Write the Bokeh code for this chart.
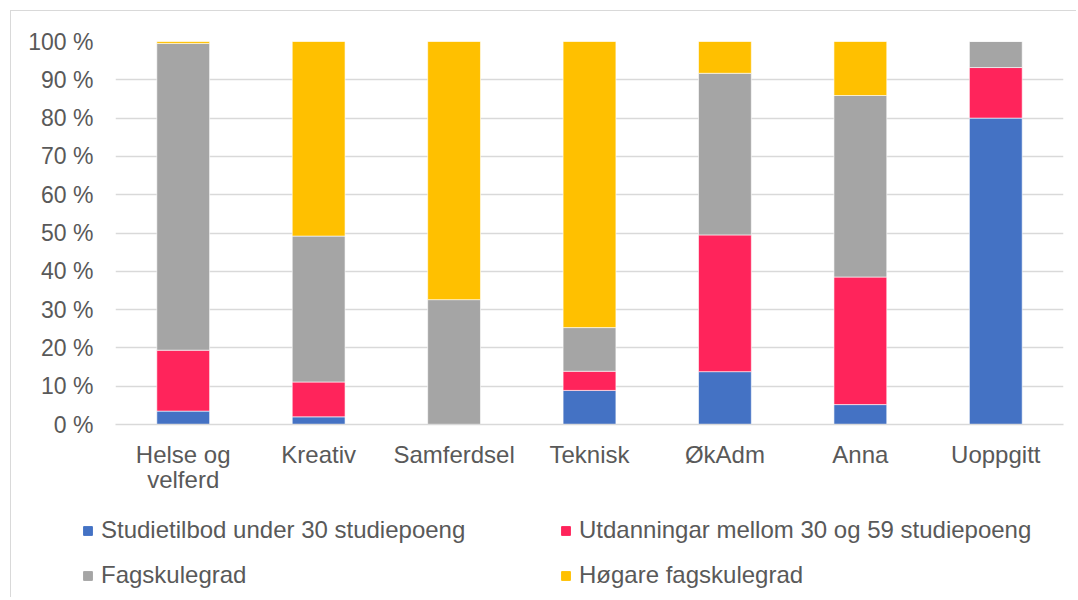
from bokeh.plotting import figure
from bokeh.models import ColumnDataSource, Legend, LegendItem, FixedTicker
from bokeh.embed import file_html
from bokeh.resources import INLINE

categories = ["Helse og\nvelferd", "Kreativ", "Samferdsel", "Teknisk", "ØkAdm", "Anna", "Uoppgitt"]
series = ["Studietilbod under 30 studiepoeng", "Utdanningar mellom 30 og 59 studiepoeng",
          "Fagskulegrad", "Høgare fagskulegrad"]
under30 = [3.5, 2.0, 0.0, 8.9, 13.8, 5.2, 80.0]
mellom30_59 = [15.9, 9.1, 0.0, 5.0, 35.7, 33.3, 13.2]
fagskulegrad = [80.1, 38.1, 32.6, 11.4, 42.2, 47.4, 6.8]
hogare = [0.5, 50.8, 67.4, 74.7, 8.3, 14.1, 0.0]
colors = ["#4472C4", "#FF245B", "#A5A5A5", "#FFC000"]
yticks = [0, 10, 20, 30, 40, 50, 60, 70, 80, 90, 100]

src = ColumnDataSource(dict(cat=categories, s0=under30, s1=mellom30_59, s2=fagskulegrad, s3=hogare))

FONT = "Liberation Sans"
p = figure(x_range=categories, y_range=(0, 100), width=1066, height=489,
           output_backend="svg", toolbar_location=None,
           min_border_left=104, min_border_right=14, min_border_top=30, min_border_bottom=76)
p.styles = {"margin-left": "10px", "margin-top": "10px",
            "border-left": "1px solid #d9d9d9", "border-top": "1px solid #d9d9d9"}

rs = p.vbar_stack(["s0", "s1", "s2", "s3"], x="cat", width=0.39, source=src,
                  color=colors, line_color="white", line_width=0.6)

p.outline_line_color = None
p.xgrid.grid_line_color = None
p.ygrid.grid_line_color = "#d9d9d9"
p.ygrid.grid_line_width = 1.5
p.ygrid.ticker = FixedTicker(ticks=yticks)

p.yaxis.ticker = FixedTicker(ticks=yticks)
p.yaxis.major_label_overrides = {t: f"{t} %" for t in yticks}
p.yaxis.axis_line_color = None
p.yaxis.major_tick_line_color = None
p.yaxis.minor_tick_line_color = None
p.yaxis.major_label_standoff = 16
p.yaxis.major_label_text_font = FONT
p.yaxis.major_label_text_font_size = "23px"
p.yaxis.major_label_text_color = "#595959"

p.xaxis.axis_line_color = "#d9d9d9"
p.xaxis.axis_line_width = 1.5
p.xaxis.major_tick_line_color = None
p.xaxis.major_label_standoff = 10
p.xaxis.major_label_text_font = FONT
p.xaxis.major_label_text_font_size = "24px"
p.xaxis.major_label_text_color = "#595959"
p.xaxis.major_label_text_line_height = 0.93

# legend panel below the chart (hidden copies of the stacked bars supply the legend glyphs)
pl = figure(x_range=categories, y_range=(0, 100), width=1066, height=98,
            output_backend="svg", toolbar_location=None,
            x_axis_location=None, y_axis_location=None,
            min_border_left=0, min_border_right=0, min_border_top=0, min_border_bottom=0)
pl.styles = {"margin-left": "10px", "border-left": "1px solid #d9d9d9"}
pl.outline_line_color = None
pl.xgrid.grid_line_color = None
pl.ygrid.grid_line_color = None
proxies = pl.vbar_stack(["s0", "s1", "s2", "s3"], x="cat", width=0.39, source=src, color=colors)
for r in proxies:
    r.visible = False

lg = Legend(items=[LegendItem(label=series[i], renderers=[proxies[i]]) for i in range(4)],
            location=(71, 8), orientation="horizontal", ncols=2)
lg.padding = 0
lg.margin = 0
lg.border_line_alpha = 0
lg.background_fill_alpha = 0
lg.glyph_width = 11
lg.glyph_height = 11
lg.label_standoff = 8
lg.label_height = 20
lg.label_width = 442
lg.spacing = 17
lg.label_text_font = FONT
lg.label_text_font_size = "24px"
lg.label_text_color = "#595959"
pl.add_layout(lg, "center")

open("out.html", "w").write(file_html([p, pl], INLINE))
